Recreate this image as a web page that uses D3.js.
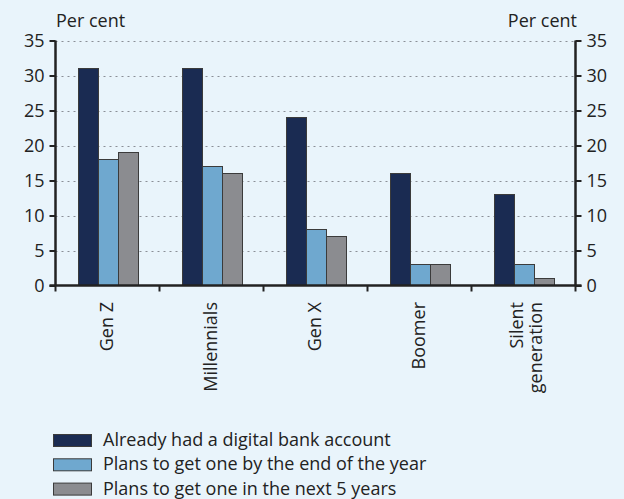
<!DOCTYPE html>
<html><head><meta charset="utf-8">
<script src="https://cdn.jsdelivr.net/npm/d3@7"></script>
<style>
html,body{margin:0;padding:0;background:#e9f4fb;}
svg{display:block;font-family:"Open Sans", Lato, sans-serif;}
</style></head>
<body><svg id="c" width="624" height="499"></svg>
<script>
const categories = ["Gen Z","Millennials","Gen X","Boomer","Silent generation"];
const seriesNames = ["Already had a digital bank account","Plans to get one by the end of the year","Plans to get one in the next 5 years"];
const alreadyHad = [31,31,24,16,13];
const endOfYear = [18,17,8,3,3];
const next5Years = [19,16,7,3,1];
const yTicks = [0,5,10,15,20,25,30,35];
const colors = ["#1a2b52","#6fa8cf","#8b8c90"];

const series = [alreadyHad,endOfYear,next5Years];
const svg = d3.select("#c");
const L=55.5, R=575.5, T=40.5, B=285.5;
const FONT = '"Open Sans", Lato, sans-serif';
const FS = 18;
svg.append("rect").attr("width",624).attr("height",499).attr("fill","#e9f4fb");

const x = d3.scaleBand().domain(categories).range([L,R]).paddingInner(0).paddingOuter(0);
const y = d3.scaleLinear().domain([0,35]).range([B,T]);

// grid
svg.append("g").selectAll("line").data(yTicks.filter(d=>d>0)).join("line")
 .attr("x1",L).attr("x2",R).attr("y1",d=>Math.round(y(d))+0.5).attr("y2",d=>Math.round(y(d))+0.5)
 .attr("stroke","#8a8f96").attr("stroke-width",1).attr("stroke-dasharray","2,4");

// bars
const gw = 60, off = 23;
const bx = d3.scaleBand().domain(d3.range(3)).range([0,gw]);
categories.forEach((c,i)=>{
  series.forEach((s,k)=>{
    svg.append("rect")
      .attr("x",x(c)+off+bx(k)).attr("y",y(s[i]))
      .attr("width",bx.bandwidth()).attr("height",B-y(s[i]))
      .attr("fill",colors[k]).attr("stroke","#3b3b3b").attr("stroke-width",1);
  });
});

// axes
const yl = d3.axisLeft(y).tickValues(yTicks).tickSize(6).tickPadding(5);
const yr = d3.axisRight(y).tickValues(yTicks).tickSize(6).tickPadding(5);
const gl = svg.append("g").attr("transform",`translate(${L},0)`).call(yl);
const gr = svg.append("g").attr("transform",`translate(${R},0)`).call(yr);
[gl,gr].forEach(g=>{
  g.select(".domain").attr("stroke","#222").attr("stroke-width",2.5).attr("d",`M0,${T}V${B}`);
  g.selectAll(".tick line").attr("stroke","#222").attr("stroke-width",2);
  g.selectAll(".tick text").attr("font-size",FS).attr("fill","#222").attr("font-family",FONT);
});
// x axis
const xt = categories.map(c=>x(c)).concat([R]);
svg.append("line").attr("x1",L-6).attr("x2",R+6).attr("y1",B).attr("y2",B).attr("stroke","#222").attr("stroke-width",2.5);
svg.append("g").selectAll("line").data(xt).join("line")
 .attr("x1",d=>d).attr("x2",d=>d).attr("y1",B).attr("y2",B+6).attr("stroke","#222").attr("stroke-width",2);

// category labels
categories.forEach(c=>{
  const cx = x(c)+x.bandwidth()/2;
  const words = c==="Silent generation" ? ["Silent","generation"] : [c];
  const t = svg.append("text").attr("transform",`translate(${cx},302) rotate(-90)`)
    .attr("text-anchor","end").attr("font-size",FS).attr("fill","#222");
  const base = words.length===1 ? 5 : -0.5;
  words.forEach((w,j)=>{
    t.append("tspan").attr("x",0).attr("y",base + j*18.5).text(w);
  });
});

// unit labels
svg.append("text").attr("x",56).attr("y",27).attr("font-size",18).attr("fill","#222").text("Per cent");
svg.append("text").attr("x",577).attr("y",27).attr("text-anchor","end").attr("font-size",18).attr("fill","#222").text("Per cent");

// legend
seriesNames.forEach((n,k)=>{
  const yy = 440.5 + k*24.3;
  svg.append("rect").attr("x",53.5).attr("y",yy-6).attr("width",38).attr("height",12)
    .attr("fill",colors[k]).attr("stroke","#3b3b3b").attr("stroke-width",1);
  svg.append("text").attr("x",103).attr("y",yy+5.5).attr("font-size",FS).attr("fill","#222").text(n);
});
</script></body></html>
